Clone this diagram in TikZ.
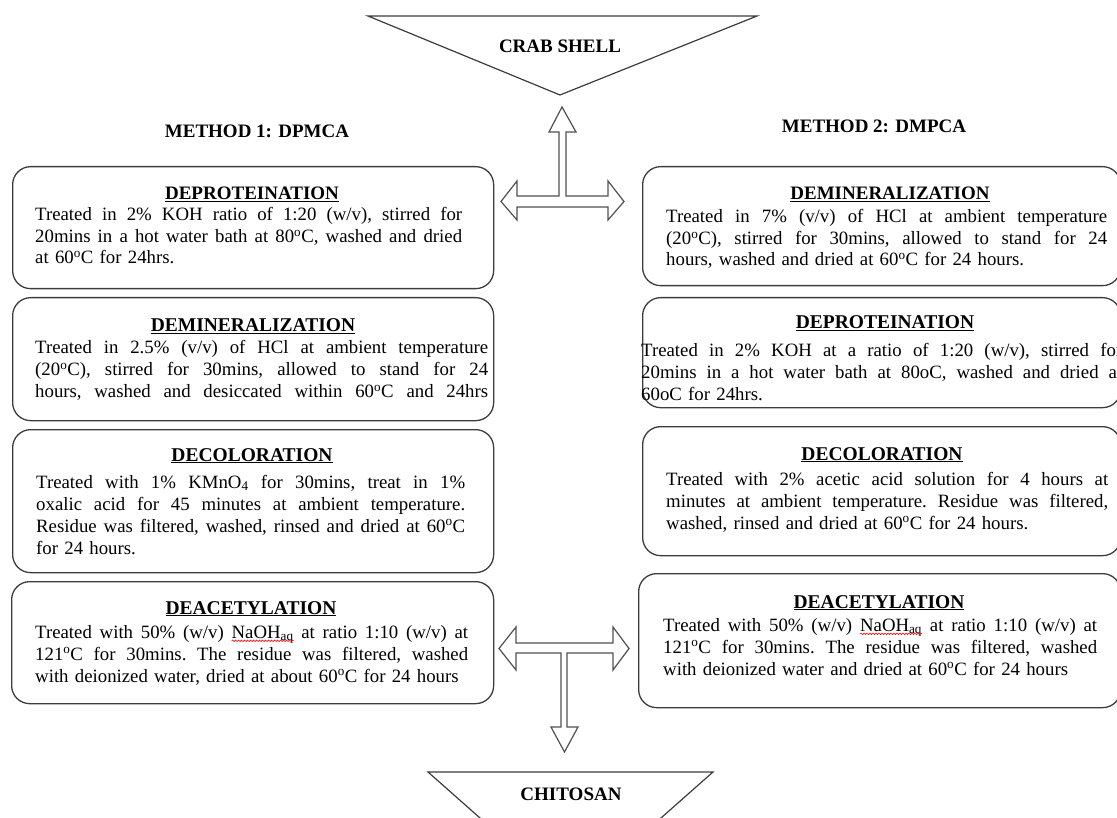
\documentclass[tikz,border=0pt]{standalone}
\usepackage{fontspec}
\setmainfont{Liberation Serif}
\usetikzlibrary{calc,decorations.pathmorphing}
\definecolor{edge}{HTML}{3C3C3C}
\definecolor{arrowc}{HTML}{505050}
\newlength\wavelen
\newcommand{\redwave}[1]{\settowidth{\wavelen}{#1}\rlap{#1}\tikz[overlay,baseline=0pt]\draw[red,line width=0.6pt,decorate,decoration={snake,amplitude=0.8pt,segment length=3pt}] (0pt,-2.8pt) -- (\wavelen,-2.8pt);\hspace*{\wavelen}}
\newcommand{\dg}{\textsuperscript{o}}
\ExplSyntaxOn
\NewDocumentCommand\jl{mm}{
  \seq_set_split:Nnn \l_tmpa_seq {~} {#2}
  \leavevmode\hbox~to~#1{\seq_use:Nn \l_tmpa_seq {\hskip~.25em~plus~1fill\relax}}
}
\ExplSyntaxOff
\begin{document}
\begin{tikzpicture}[x=1pt,y=-1pt,
  stepbox/.style={draw=edge, line width=1.3pt, rounded corners=18pt, anchor=north west, inner sep=0pt},
  headtxt/.style={font=\fontsize{19.5}{22}\selectfont\bfseries, anchor=base, inner sep=0pt},
  tophead/.style={headtxt, font=\fontsize{19}{22}\selectfont\bfseries},
  bodytxt/.style={font=\fontsize{18.8}{22}\selectfont\frenchspacing, anchor=base west, inner sep=0pt, align=left, text width=520pt},
  topbody/.style={bodytxt, font=\fontsize{18.8}{21.5}\selectfont\frenchspacing},
  tri/.style={draw=edge, line width=1.2pt, line join=miter},
  blockarrow/.style={draw=arrowc, line width=1.2pt, fill=white, line join=miter}]
\useasboundingbox (0,0) rectangle (1117,818);
\clip (0,0) rectangle (1117,818);

% triangles
\draw[tri] (368,16) -- (757,16) -- (560,95) -- cycle;
\node[headtxt, font=\fontsize{19}{22}\selectfont\bfseries] (crab) at (560,53) {CRAB SHELL};
\draw[tri] (428,772) -- (713,772) -- (570.5,898) -- cycle;
\node[headtxt, font=\fontsize{19}{22}\selectfont\bfseries] (chit) at (571,800) {CHITOSAN};

% method headers
\node[headtxt, font=\fontsize{19}{22}\selectfont\bfseries] (m1) at (257,138) {METHOD 1: DPMCA};
\node[headtxt, font=\fontsize{19}{22}\selectfont\bfseries] (m2) at (874,133) {METHOD 2: DMPCA};

% block arrows
\draw[blockarrow] (562,107) -- (576,132) -- (566,132) -- (566,196) -- (608,196) -- (608,181)
  -- (624,201.5) -- (608,220) -- (608,207) -- (517,207) -- (517,220) -- (501,201.5)
  -- (517,181) -- (517,196) -- (559,196) -- (559,132) -- (549,132) -- cycle;
\draw[blockarrow] (499,648.5) -- (516,627) -- (516,643) -- (613,643) -- (613,627) -- (629,648.5)
  -- (613,670) -- (613,653) -- (567,653) -- (567,727) -- (578,727) -- (564.5,752)
  -- (551,727) -- (561,727) -- (561,653) -- (516,653) -- (516,670) -- cycle;

% left boxes
\node[stepbox, minimum width=481pt, minimum height=122pt] (L1) at (12,166) {};
\node[stepbox, minimum width=481pt, minimum height=123pt] (L2) at (12,297) {};
\node[stepbox, minimum width=481pt, minimum height=143pt] (L3) at (12,429) {};
\node[stepbox, minimum width=482pt, minimum height=122pt] (L4) at (11,581) {};
% right boxes
\node[stepbox, minimum width=478pt, minimum height=119pt] (R1) at (642,166) {};
\node[stepbox, minimum width=478pt, minimum height=110pt] (R2) at (642,297) {};
\node[stepbox, minimum width=478pt, minimum height=129pt] (R3) at (642,426) {};
\node[stepbox, minimum width=482pt, minimum height=134pt] (R4) at (638,573) {};

% left texts
\node[tophead] (L1h) at (252,200) {\underline{DEPROTEINATION}};
\node[topbody] (L1b) at (35,221) {%
\jl{427pt}{Treated in 2\% KOH ratio of 1:20 (w/v), stirred for}\\
\jl{427pt}{20mins in a hot water bath at 80\dg C, washed and dried}\\
at 60\dg C for 24hrs.};

\node[headtxt] (L2h) at (253,332) {\underline{DEMINERALIZATION}};
\node[bodytxt] (L2b) at (35,354) {%
\jl{453pt}{Treated in 2.5\% (v/v) of HCl at ambient temperature}\\
\jl{453pt}{(20\dg C), stirred for 30mins, allowed to stand for 24}\\
\jl{453pt}{hours, washed and desiccated within 60\dg C and 24hrs}};

\node[headtxt] (L3h) at (252,461) {\underline{DECOLORATION}};
\node[bodytxt] (L3b) at (36,488) {%
\jl{429pt}{Treated with 1\% KMnO\textsubscript{4} for 30mins, treat in 1\%}\\
\jl{429pt}{oxalic acid for 45 minutes at ambient temperature.}\\
\jl{429pt}{Residue was filtered, washed, rinsed and dried at 60\dg C}\\
for 24 hours.};

\node[headtxt] (L4h) at (251,614) {\underline{DEACETYLATION}};
\node[bodytxt] (L4b) at (35,638) {%
\jl{433pt}{Treated with 50\% (w/v) \redwave{NaOH\textsubscript{aq}} at ratio 1:10 (w/v) at}\\
\jl{433pt}{121\dg C for 30mins. The residue was filtered, washed}\\
with deionized water, dried at about 60\dg C for 24 hours};

% right texts
\node[tophead] (R1h) at (890,200) {\underline{DEMINERALIZATION}};
\node[topbody] (R1b) at (666,223) {%
\jl{441pt}{Treated in 7\% (v/v) of HCl at ambient temperature}\\
\jl{441pt}{(20\dg C), stirred for 30mins, allowed to stand for 24}\\
hours, washed and dried at 60\dg C for 24 hours.};

\node[headtxt] (R2h) at (885,329) {\underline{DEPROTEINATION}};
\node[bodytxt] (R2b) at (641,356) {%
\jl{481pt}{Treated in 2\% KOH at a ratio of 1:20 (w/v), stirred for}\\
\jl{481pt}{20mins in a hot water bath at 80oC, washed and dried at}\\
60oC for 24hrs.};

\node[headtxt] (R3h) at (882,460) {\underline{DECOLORATION}};
\node[bodytxt] (R3b) at (666,485) {%
\jl{442pt}{Treated with 2\% acetic acid solution for 4 hours at}\\
\jl{442pt}{minutes at ambient temperature. Residue was filtered,}\\
washed, rinsed and dried at 60\dg C for 24 hours.};

\node[headtxt] (R4h) at (879,608) {\underline{DEACETYLATION}};
\node[bodytxt] (R4b) at (663,631) {%
\jl{434pt}{Treated with 50\% (w/v) \redwave{NaOH\textsubscript{aq}} at ratio 1:10 (w/v) at}\\
\jl{434pt}{121\dg C for 30mins. The residue was filtered, washed}\\
with deionized water and dried at 60\dg C for 24 hours};
\end{tikzpicture}
\end{document}
